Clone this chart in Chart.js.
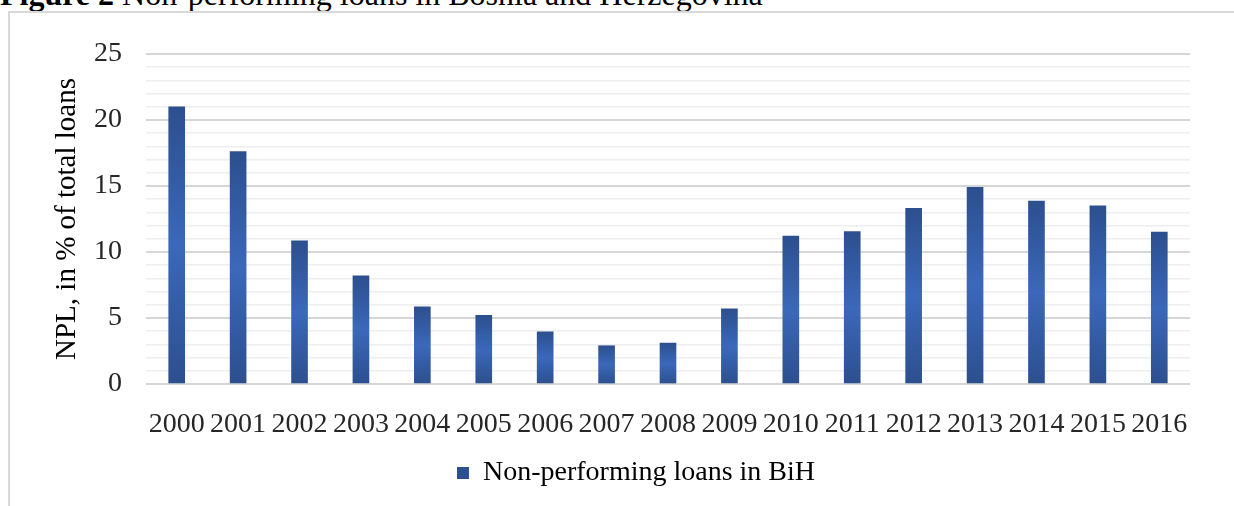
<!DOCTYPE html>
<html>
<head>
<meta charset="utf-8">
<script src="https://cdn.jsdelivr.net/npm/chart.js@4/dist/chart.umd.min.js"></script>
<style>
  html, body { margin: 0; padding: 0; background: #ffffff; width: 1234px; height: 506px; overflow: hidden; }
  #frame { position: absolute; left: 8px; top: 11px; width: 1260px; height: 600px; border: 2px solid #d9d9d9; box-sizing: border-box; }
  #fig { position: absolute; left: 0px; top: -22px; font-family: 'Liberation Serif', 'Times New Roman', serif; font-size: 32px; line-height: 32px; color: #000; white-space: nowrap; }
  #c { position: absolute; left: 0; top: 0; }
</style>
</head>
<body>
<div id="fig"><b>Figure 2</b> Non-performing loans in Bosnia and Herzegovina</div>
<div id="frame"></div>
<canvas id="c" width="1234" height="506"></canvas>
<script>
const years = ['2000','2001','2002','2003','2004','2005','2006','2007','2008','2009','2010','2011','2012','2013','2014','2015','2016'];
const nplValues = [21.0, 17.6, 10.85, 8.2, 5.85, 5.2, 3.95, 2.9, 3.1, 5.7, 11.2, 11.55, 13.3, 14.9, 13.85, 13.5, 11.5];
const seriesName = 'Non-performing loans in BiH';
const yAxisTitle = 'NPL, in % of total loans';
const yMin = 0, yMax = 25, yMajorStep = 5;

const FONT = "'Liberation Serif', 'Times New Roman', serif";

function barFill(ctx) {
  if (ctx.type !== 'data') return '#3864b4';
  const chart = ctx.chart;
  const y = chart.scales && chart.scales.y;
  if (!y) return '#3864b4';
  const top = y.getPixelForValue(ctx.raw);
  const bot = y.getPixelForValue(0);
  if (!isFinite(top) || !isFinite(bot) || top === bot) return '#3864b4';
  const g = chart.ctx.createLinearGradient(0, top, 0, bot);
  g.addColorStop(0, '#2c4f8e');
  g.addColorStop(0.5, '#3b68ba');
  g.addColorStop(1, '#2c4f8e');
  return g;
}

new Chart(document.getElementById('c'), {
  type: 'bar',
  data: {
    labels: years,
    datasets: [{
      label: seriesName,
      data: nplValues,
      backgroundColor: barFill,
      borderWidth: 0,
      barThickness: 16
    }]
  },
  options: {
    responsive: false,
    animation: false,
    devicePixelRatio: 1,
    layout: { padding: { left: 82, right: 44, top: 54, bottom: 9 } },
    plugins: {
      tooltip: { enabled: false },
      legend: {
        position: 'bottom',
        labels: {
          boxWidth: 12, boxHeight: 12, padding: 10,
          color: '#000',
          font: { family: FONT, size: 28 }
        }
      }
    },
    scales: {
      x: {
        grid: { display: false },
        border: { display: false },
        ticks: { color: '#262626', font: { family: FONT, size: 28 }, padding: 16, maxRotation: 0, autoSkip: false },
        afterFit: (s) => { s.height = 65; }
      },
      y: {
        min: yMin, max: yMax,
        border: { display: false },
        grid: {
          drawTicks: false,
          lineWidth: (c) => (c.tick && c.tick.value % yMajorStep === 0) ? 2 : 1.5,
          color: (c) => (c.tick && c.tick.value % yMajorStep === 0) ? '#d6d6d6' : '#eeeeee'
        },
        ticks: {
          stepSize: 1, autoSkip: false, padding: 24,
          color: '#262626', font: { family: FONT, size: 28 },
          callback: (v) => (v % yMajorStep === 0 ? String(v) : '')
        },
        title: {
          display: true, text: yAxisTitle, color: '#000',
          font: { family: FONT, size: 29 },
          padding: { top: -32, bottom: 0 }
        },
        afterFit: (s) => { s.width = 64; }
      }
    }
  }
});
</script>
</body>
</html>
